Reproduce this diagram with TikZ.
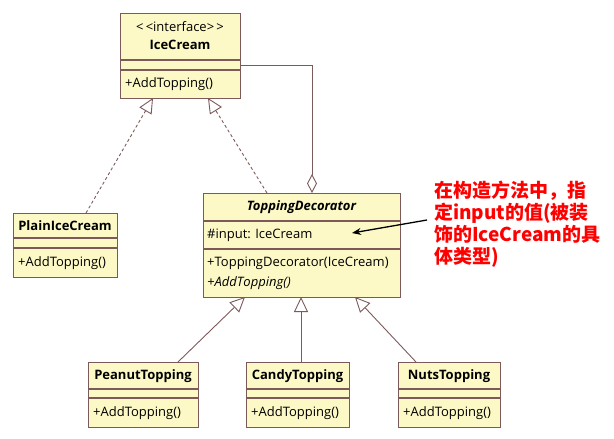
\documentclass[tikz,border=0pt]{standalone}
\usepackage{fontspec}
\setmainfont{Open Sans}
\newfontfamily\cjk{Noto Sans CJK SC}
\usetikzlibrary{arrows.meta}
\definecolor{umlfill}{HTML}{FCF9C6}
\definecolor{umlline}{HTML}{7D5A5A}
\definecolor{notered}{HTML}{FF0000}
\begin{document}
\begin{tikzpicture}[x=1pt,y=-1pt,
  cls/.style={draw=umlline,fill=umlfill,line width=1.1pt,inner sep=0pt,anchor=north west},
  sep/.style={draw=umlline,line width=1.1pt},
  title/.style={font=\fontsize{13}{15}\selectfont\bfseries,inner sep=0pt},
  member/.style={font=\fontsize{13}{15}\selectfont,inner sep=0pt,anchor=west},
  realize/.style={draw=umlline,line width=0.9pt,dash pattern=on 3pt off 2.5pt,
     -{Triangle[open,length=15pt,width=14pt,line width=0.9pt,fill=white]}},
  inherit/.style={draw=umlline,line width=0.9pt,
     -{Triangle[open,length=15pt,width=14pt,line width=0.9pt,fill=white]}},
  aggr/.style={draw=umlline,line width=0.9pt,
     -{Diamond[open,length=19pt,width=10pt,line width=0.9pt,fill=white]}},
  notearrow/.style={draw=black,line width=1.3pt,-{Stealth[length=9pt,width=7pt]}}]
\useasboundingbox (0,0) rectangle (614,439);

% IceCream
\node[cls,minimum width=120pt,minimum height=85pt] (ic) at (120,13) {};
\draw[sep] (120,60) -- (240,60);
\draw[sep] (120,70) -- (240,70);
\node[inner sep=0pt,font=\fontsize{13}{15}\selectfont] (icst) at (180,27) {{<}\,{<}interface{>}\,{>}};
\node[title] (icname) at (180,45) {IceCream};
\node[member] (icm) at (125,84) {+AddTopping()};

% PlainIceCream
\node[cls,minimum width=104pt,minimum height=64pt] (pic) at (13,213) {};
\draw[sep] (13,238) -- (117,238);
\draw[sep] (13,248) -- (117,248);
\node[title] (picname) at (65,226) {PlainIceCream};
\node[member] (picm) at (18,263) {+AddTopping()};

% ToppingDecorator
\node[cls,minimum width=197pt,minimum height=104pt] (td) at (203,193) {};
\draw[sep] (203,221) -- (400,221);
\draw[sep] (203,249) -- (400,249);
\node[title,font=\fontsize{13}{15}\selectfont\bfseries\itshape] (tdname) at (301.5,207) {ToppingDecorator};
\node[member] (tdattr) at (207,235) {\#input: IceCream};
\node[member] (tdctor) at (207,263) {+ToppingDecorator(IceCream)};
\node[member,font=\fontsize{13}{15}\selectfont\itshape] (tdm) at (207,283) {+AddTopping()};

% PeanutTopping
\node[cls,minimum width=110pt,minimum height=65pt] (pt) at (88,362) {};
\draw[sep] (88,389) -- (198,389);
\draw[sep] (88,398) -- (198,398);
\node[title] (ptname) at (143,376) {PeanutTopping};
\node[member] (ptm) at (93,413) {+AddTopping()};

% CandyTopping
\node[cls,minimum width=103pt,minimum height=65pt] (ct) at (246,362) {};
\draw[sep] (246,389) -- (349,389);
\draw[sep] (246,398) -- (349,398);
\node[title] (ctname) at (297.5,376) {CandyTopping};
\node[member] (ctm) at (251,413) {+AddTopping()};

% NutsTopping
\node[cls,minimum width=102pt,minimum height=65pt] (nt) at (398,362) {};
\draw[sep] (398,389) -- (500,389);
\draw[sep] (398,398) -- (500,398);
\node[title] (ntname) at (449,376) {NutsTopping};
\node[member] (ntm) at (403,413) {+AddTopping()};

% connection points
\coordinate (icb1) at (153,98);
\coordinate (icb2) at (208,98);
\coordinate (icr) at (240,65);
\coordinate (pict) at (86,213);
\coordinate (tdt1) at (267,193);
\coordinate (tdt2) at (312,193);
\coordinate (tdb1) at (245,297);
\coordinate (tdb2) at (301,297);
\coordinate (tdb3) at (355,297);
\coordinate (ptt) at (178,362);
\coordinate (ctt) at (301,362);
\coordinate (ntt) at (416,362);

\draw[realize] (pict) -- (icb1);
\draw[realize] (tdt1) -- (icb2);
\draw[aggr] (icr) -| (tdt2);
\draw[inherit] (ptt) -- (tdb1);
\draw[inherit] (ctt) -- (tdb2);
\draw[inherit] (ntt) -- (tdb3);

% note
\node[anchor=north west,inner sep=0pt,align=left,text=notered,
  font=\cjk\bfseries\fontsize{19}{22}\selectfont] (note) at (434,181)
  {在构造方法中，指\\定input的值(被装\\饰的IceCream的具\\体类型)};
\coordinate (notestart) at (427,220);
\coordinate (noteend) at (352,233);
\draw[notearrow] (notestart) -- (noteend);
\end{tikzpicture}
\end{document}
